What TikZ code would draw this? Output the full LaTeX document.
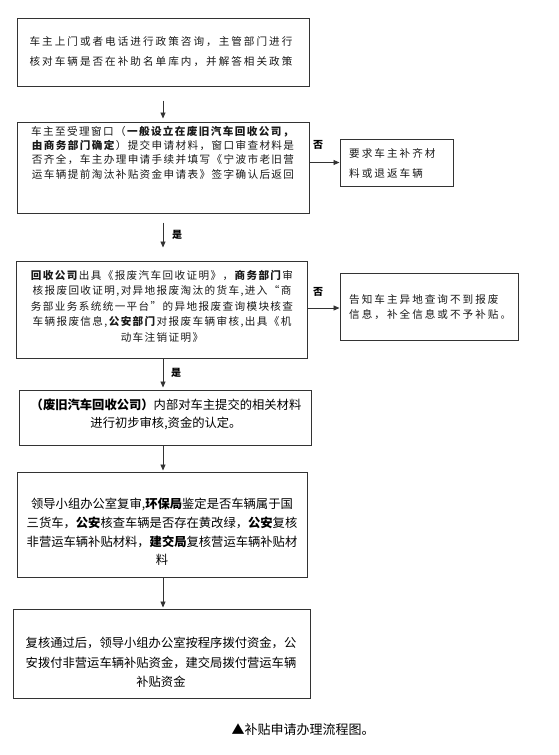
\documentclass[tikz,border=0pt]{standalone}
\usepackage{fontspec}
\setmainfont{Noto Sans CJK SC}
\newfontfamily\spaced[LetterSpace=19]{Noto Sans CJK SC}
\newfontfamily\spacedtight[LetterSpace=13]{Noto Sans CJK SC}
\usetikzlibrary{arrows.meta}
\begin{document}
\begin{tikzpicture}[x=1pt,y=-1pt,
  box/.style={draw=black!80, line width=1pt, inner sep=0pt},
  arr/.style={draw=black!80, line width=0.9pt, -{Triangle[length=6pt,width=5pt]}},
  toptxt/.style={text=black!90, inner sep=0pt, font=\spaced\fontsize{10.6}{#1}\selectfont},
  densetxt/.style={text=black!90, inner sep=0pt, font=\spacedtight\fontsize{10.6}{#1}\selectfont},
  bottxt/.style={text=black, inner sep=0pt, font=\fontsize{12.3}{#1}\selectfont},
  lab/.style={inner sep=0pt, font=\bfseries\fontsize{10}{12}\selectfont}]
\useasboundingbox[fill=white] (0,0) rectangle (558,755);

% boxes
\node[box, minimum width=292, minimum height=68] (b1) at (163,52) {};
\node[box, minimum width=292, minimum height=91] (b2) at (163,167.5) {};
\node[box, minimum width=113, minimum height=47] (b3) at (396.5,162.5) {};
\node[box, minimum width=291, minimum height=97] (b4) at (162,309.5) {};
\node[box, minimum width=178, minimum height=67] (b5) at (429,306.5) {};
\node[box, minimum width=292, minimum height=55] (b6) at (165,417.5) {};
\node[box, minimum width=290, minimum height=105] (b7) at (162,524.5) {};
\node[box, minimum width=297, minimum height=89] (b8) at (161.5,653.5) {};

% texts
\node[toptxt=20, align=center] (t1) at (161,52) {车主上门或者电话进行政策咨询，主管部门进行\\核对车辆是否在补助名单库内，并解答相关政策};
\node[densetxt=14.4, align=center] (t2) at (163,152.5) {车主至受理窗口（\textbf{一般设立在废旧汽车回收公司，}\\\textbf{由商务部门确定}）提交申请材料，窗口审查材料是\\否齐全，车主办理申请手续并填写《宁波市老旧营\\运车辆提前淘汰补贴资金申请表》签字确认后返回};
\node[toptxt=20, align=left, anchor=west] (t3) at (349,163) {要求车主补齐材\\料或退返车辆};
\node[densetxt=15.5, align=center] (t4) at (162,306) {\textbf{回收公司}出具《报废汽车回收证明》，\textbf{商务部门}审\\核报废回收证明,对异地报废淘汰的货车,进入“商\\务部业务系统统一平台”的异地报废查询模块核查\\车辆报废信息,\textbf{公安部门}对报废车辆审核,出具《机\\动车注销证明》};
\node[toptxt=15, align=left, anchor=west] (t5) at (349,307.5) {告知车主异地查询不到报废\\信息，补全信息或不予补贴。};
\node[bottxt=18, align=center] (t6) at (166,414) {\textbf{（废旧汽车回收公司）}内部对车主提交的相关材料\\进行初步审核,资金的认定。};
\node[bottxt=18.7, align=center] (t7) at (162,532) {领导小组办公室复审,\textbf{环保局}鉴定是否车辆属于国\\三货车，\textbf{公安}核查车辆是否存在黄改绿，\textbf{公安}复核\\非营运车辆补贴材料，\textbf{建交局}复核营运车辆补贴材\\料};
\node[bottxt=19.5, align=center] (t8) at (161,662.5) {复核通过后，领导小组办公室按程序拨付资金，公\\安拨付非营运车辆补贴资金，建交局拨付营运车辆\\补贴资金};

% caption
\node[bottxt=14, font=\fontsize{13}{14}\selectfont] (cap) at (303,730) {▲补贴申请办理流程图。};

% connectors
\draw[arr, shorten <=14pt, shorten >=3pt] (b1.south) -- (b2.north);
\draw[arr, shorten <=9pt, shorten >=13pt] (b2.south) -- (b2.south |- b4.north);
\draw[arr, shorten >=2pt] (b4.south -| b2.south) -- (b2.south |- b6.north);
\draw[arr, shorten >=1pt] (b6.south -| b2.south) -- (b2.south |- b7.north);
\draw[arr, shorten >=1pt] (b7.south -| b2.south) -- (b2.south |- b8.north);
\draw[arr] (b2.east |- b3.west) -- (b3.west);
\draw[arr] (b4.east |- 0,308) -- (b5.west |- 0,308);

% labels
\node[lab] (no1) at (318,145) {否};
\node[lab] (no2) at (318,292) {否};
\node[lab] (yes1) at (177,235) {是};
\node[lab] (yes2) at (176,373) {是};
\end{tikzpicture}
\end{document}
